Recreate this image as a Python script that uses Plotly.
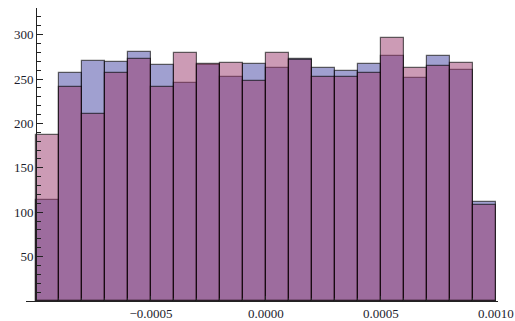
import numpy as np
import plotly.graph_objects as go

# Histogram bins: 20 bins of width 1e-4 spanning [-0.001, 0.001]
bin_start = -0.001
bin_width = 0.0001
n_bins = 20

# Counts per bin for the two samples
counts_a = [114, 257, 270, 269, 281, 266, 246, 266, 252, 267,
            262, 273, 262, 259, 267, 276, 251, 276, 260, 111]
counts_b = [187, 241, 211, 257, 273, 241, 279, 267, 268, 248,
            279, 272, 252, 252, 257, 296, 262, 265, 268, 108]

# Axis ticks
x_tickvals = [-0.0005, 0.0, 0.0005, 0.001]
x_ticktext = ["\u22120.0005", "0.0000", "0.0005", "0.0010"]
y_tickvals = [50, 100, 150, 200, 250, 300]

centers = bin_start + bin_width * (np.arange(n_bins) + 0.5)

edge = dict(color="rgba(0,0,0,0.6)", width=1.2)

fig = go.Figure()
fig.add_trace(go.Bar(
    x=centers, y=counts_a, width=bin_width,
    marker=dict(color="rgba(65,65,161,0.5)", line=edge),
    showlegend=False,
))
fig.add_trace(go.Bar(
    x=centers, y=counts_b, width=bin_width,
    marker=dict(color="rgba(153,55,107,0.5)", line=edge),
    showlegend=False,
))

x_range = [-0.0010435, 0.0010096]
y_axis_pos = (bin_start - x_range[0]) / (x_range[1] - x_range[0])

axis_font = dict(family="Liberation Serif, Times New Roman, serif", size=13, color="#1c1c2c")

fig.update_layout(
    width=515, height=321,
    margin=dict(l=26, r=17, t=8, b=20, pad=0, autoexpand=False),
    paper_bgcolor="white", plot_bgcolor="white",
    barmode="overlay", bargap=0,
    xaxis=dict(
        range=x_range, showgrid=False, zeroline=False, automargin=False,
        showline=True, linecolor="#222", linewidth=1,
        ticks="inside", ticklen=5, tickcolor="#222",
        tickvals=x_tickvals, ticktext=x_ticktext,
        minor=dict(ticks="inside", ticklen=3, dtick=0.0001, tick0=0, tickcolor="#222"),
        tickfont=axis_font, layer="above traces",
    ),
    yaxis=dict(
        range=[0, 330], showgrid=False, zeroline=False, automargin=False,
        anchor="free", position=y_axis_pos,
        showline=True, linecolor="#222", linewidth=1,
        ticks="inside", ticklen=6, tickcolor="#222",
        tickvals=y_tickvals,
        minor=dict(ticks="inside", ticklen=3.5, dtick=10, tick0=0, tickcolor="#222"),
        tickfont=axis_font, layer="above traces",
    ),
)

fig.write_html("out.html")
